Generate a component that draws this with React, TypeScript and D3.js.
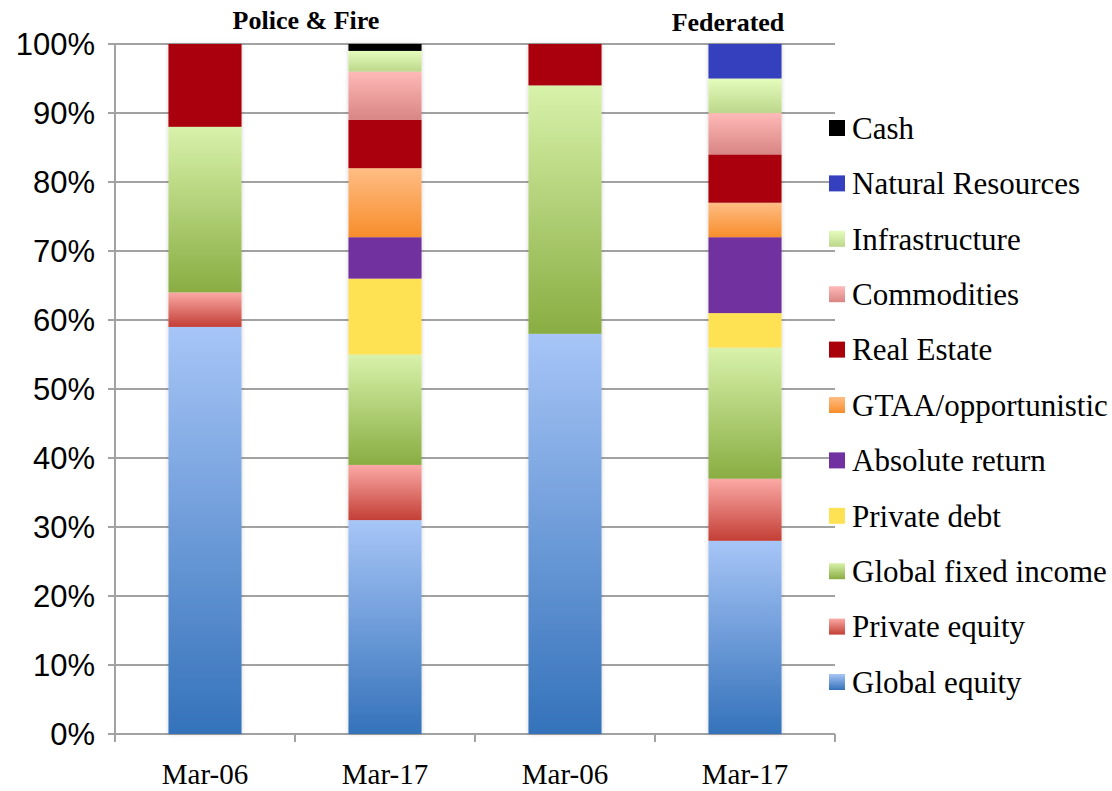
import React from "react";
import * as d3 from "d3";

const categories = ["Mar-06", "Mar-17", "Mar-06", "Mar-17"];
const groups = [
  { name: "Police & Fire", x: 306 },
  { name: "Federated", x: 728 },
];
const seriesNames = [
  "Global equity",
  "Private equity",
  "Global fixed income",
  "Private debt",
  "Absolute return",
  "GTAA/opportunistic",
  "Real Estate",
  "Commodities",
  "Infrastructure",
  "Natural Resources",
  "Cash",
];
const globalEquity = [59, 31, 58, 28];
const privateEquity = [5, 8, 0, 9];
const globalFixedIncome = [24, 16, 36, 19];
const privateDebt = [0, 11, 0, 5];
const absoluteReturn = [0, 6, 0, 11];
const gtaa = [0, 10, 0, 5];
const realEstate = [12, 7, 6, 7];
const commodities = [0, 7, 0, 6];
const infrastructure = [0, 3, 0, 5];
const naturalResources = [0, 0, 0, 5];
const cash = [0, 1, 0, 0];
const yTicks = [0, 10, 20, 30, 40, 50, 60, 70, 80, 90, 100];

// top colour, bottom colour for each series
const colors: [string, string][] = [
  ["#a7c5f7", "#3472ba"],
  ["#fba9a5", "#c33f36"],
  ["#d8f2aa", "#89ad42"],
  ["#ffe253", "#ffe253"],
  ["#7131a0", "#7131a0"],
  ["#ffbd84", "#f78d2c"],
  ["#aa0009", "#aa0009"],
  ["#ffbab7", "#d88584"],
  ["#e5fcbc", "#bcd78b"],
  ["#3540bf", "#3540bf"],
  ["#000000", "#000000"],
];

const seriesValues = [
  globalEquity,
  privateEquity,
  globalFixedIncome,
  privateDebt,
  absoluteReturn,
  gtaa,
  realEstate,
  commodities,
  infrastructure,
  naturalResources,
  cash,
];

const App = () => {
  const width = 1112;
  const height = 791;
  const left = 115;
  const right = 835;
  const bottom = 734;
  const top = 44;

  const rows = categories.map((c, i) => {
    const r: any = { idx: i };
    seriesNames.forEach((s, j) => (r[s] = seriesValues[j][i]));
    return r;
  });

  const stack = d3.stack().keys(seriesNames);
  const stacked = stack(rows);

  const x = d3
    .scaleBand<number>()
    .domain(categories.map((_, i) => i))
    .range([left, right])
    .paddingInner(0.594)
    .paddingOuter(0.297);
  const y = d3.scaleLinear().domain([0, 100]).range([bottom, top]);
  const step = x.step();

  const legendY = d3
    .scalePoint<number>()
    .domain(d3.range(seriesNames.length))
    .range([128, 682]);
  const legendOrder = seriesNames.slice().reverse();

  return (
    <svg width={width} height={height} style={{ position: "absolute", left: 0, top: 0 }}>
      <defs>
        {colors.map((c, i) => (
          <linearGradient key={i} id={`g${i}`} x1="0" y1="0" x2="0" y2="1">
            <stop offset="0%" stopColor={c[0]} />
            <stop offset="100%" stopColor={c[1]} />
          </linearGradient>
        ))}
        <filter id="shadow" x="-10%" y="-5%" width="120%" height="110%">
          <feDropShadow dx="0" dy="0" stdDeviation="2" floodColor="#000" floodOpacity="0.18" />
        </filter>
      </defs>

      {yTicks.map((t) => (
        <g key={t}>
          <line x1={left - 7} x2={right} y1={y(t)} y2={y(t)} stroke="#a2a2a2" strokeWidth={2} />
          <text
            x={95}
            y={y(t)}
            dy="0.36em"
            textAnchor="end"
            fontFamily="Liberation Sans, Arial, sans-serif"
            fontSize={31}
            fill="#000"
          >
            {t}%
          </text>
        </g>
      ))}
      <line x1={left} x2={left} y1={top} y2={bottom} stroke="#a2a2a2" strokeWidth={2} />
      {d3.range(categories.length + 1).map((i) => (
        <line
          key={i}
          x1={left + i * step}
          x2={left + i * step}
          y1={bottom}
          y2={bottom + 8}
          stroke="#a2a2a2"
          strokeWidth={2}
        />
      ))}

      <g filter="url(#shadow)">
        {stacked.map((s, j) => (
          <g key={s.key}>
            {s.map((d, i) =>
              d[1] - d[0] > 0 ? (
                <rect
                  key={i}
                  x={x(i)}
                  width={x.bandwidth()}
                  y={y(d[1])}
                  height={y(d[0]) - y(d[1])}
                  fill={`url(#g${j})`}
                />
              ) : null
            )}
          </g>
        ))}
      </g>

      {categories.map((c, i) => (
        <text
          key={i}
          x={(x(i) as number) + x.bandwidth() / 2}
          y={784}
          textAnchor="middle"
          fontFamily="Liberation Serif, Times New Roman, serif"
          fontSize={29}
          fill="#000"
        >
          {c}
        </text>
      ))}

      {groups.map((g) => (
        <text
          key={g.name}
          x={g.x}
          y={g.name === "Federated" ? 31 : 29}
          textAnchor="middle"
          fontFamily="Liberation Serif, Times New Roman, serif"
          fontWeight="bold"
          fontSize={26}
          fill="#000"
        >
          {g.name}
        </text>
      ))}

      {legendOrder.map((name, k) => {
        const j = seriesNames.indexOf(name);
        const cy = legendY(k) as number;
        return (
          <g key={name}>
            <rect x={829} y={cy - 8} width={16} height={16} fill={`url(#g${j})`} />
            <text
              x={852}
              y={cy}
              dy="0.35em"
              fontFamily="Liberation Serif, Times New Roman, serif"
              fontSize={31}
              fill="#000"
            >
              {name}
            </text>
          </g>
        );
      })}
    </svg>
  );
};

export default App;
